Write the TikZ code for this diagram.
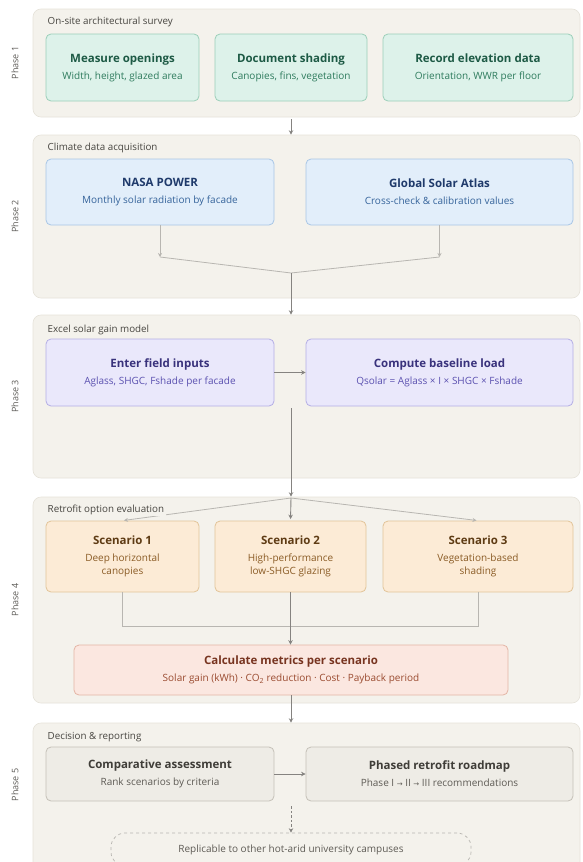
\documentclass[tikz,border=0pt]{standalone}
\usepackage{fontspec}
\setmainfont{Open Sans}
\newfontfamily\symfont{DejaVu Sans}
\usetikzlibrary{arrows.meta,calc}
\definecolor{panelfill}{HTML}{F4F2EC}
\definecolor{paneldraw}{HTML}{E6E3DA}
\definecolor{paneltext}{HTML}{474540}
\definecolor{phasetext}{HTML}{5E5C58}
\definecolor{mainline}{HTML}{858380}
\definecolor{liteline}{HTML}{B8B6B1}
% phase 1 mint
\definecolor{gfill}{HTML}{DDF2EA}\definecolor{gdraw}{HTML}{9BCFB9}
\definecolor{gtitle}{HTML}{1D5A45}\definecolor{gsub}{HTML}{2E7B5D}
% phase 2 blue
\definecolor{bfill}{HTML}{E2EEFA}\definecolor{bdraw}{HTML}{A8C6E6}
\definecolor{btitle}{HTML}{1F3A6B}\definecolor{bsub}{HTML}{36649B}
% phase 3 lavender
\definecolor{lfill}{HTML}{EAE8FB}\definecolor{ldraw}{HTML}{B4AEE5}
\definecolor{ltitle}{HTML}{39327C}\definecolor{lsub}{HTML}{5B51B0}
% phase 4 peach
\definecolor{ofill}{HTML}{FCEBD6}\definecolor{odraw}{HTML}{E2C499}
\definecolor{otitle}{HTML}{5E3B14}\definecolor{osub}{HTML}{8A5B25}
% calc salmon
\definecolor{rfill}{HTML}{FBE7E0}\definecolor{rdraw}{HTML}{E4B5A5}
\definecolor{rtitle}{HTML}{773420}\definecolor{rsub}{HTML}{9A4B30}
% phase 5 gray
\definecolor{yfill}{HTML}{EEECE6}\definecolor{ydraw}{HTML}{C5C1B8}
\definecolor{ytitle}{HTML}{3F3D38}\definecolor{ysub}{HTML}{5E5B55}
\newcommand\ttl[2]{{\color{#1}\fontsize{11.5}{17}\selectfont\bfseries #2}}
\tikzset{
  panel/.style={draw=paneldraw, fill=panelfill, line width=0.6pt, rounded corners=8pt,
    minimum width=547pt, inner sep=0pt},
  ptitle/.style={anchor=west, text=paneltext, fill=panelfill, inner sep=1.5pt,
    font=\fontsize{9.8}{12}\selectfont},
  plabel/.style={rotate=90, text=phasetext, font=\fontsize{9}{11}\selectfont},
  box/.style={draw, rounded corners=5pt, line width=0.8pt, align=center, inner sep=0pt,
    font=\fontsize{10}{17}\selectfont},
  gbox/.style={box, fill=gfill, draw=gdraw, text=gsub, minimum height=67pt},
  bbox/.style={box, fill=bfill, draw=bdraw, text=bsub, minimum height=66pt},
  lbox/.style={box, fill=lfill, draw=ldraw, text=lsub, minimum height=67pt},
  obox/.style={box, fill=ofill, draw=odraw, text=osub, minimum height=71pt},
  rbox/.style={box, fill=rfill, draw=rdraw, text=rsub, minimum height=50pt},
  ybox/.style={box, fill=yfill, draw=ydraw, text=ysub, minimum height=54pt},
  dbox/.style={draw=liteline, dashed, line width=0.7pt, rounded corners=14pt, fill=panelfill,
    text=ysub, font=\fontsize{10}{12}\selectfont, minimum width=360pt, minimum height=33pt},
  mainarr/.style={draw=mainline, line width=0.9pt, -{Stealth[length=4.5pt,width=4.5pt]}},
  litearr/.style={draw=liteline, line width=0.8pt, -{Stealth[length=4pt,width=4pt]}},
  liteln/.style={draw=liteline, line width=0.8pt},
}
\begin{document}
\begin{tikzpicture}[x=1pt,y=-1pt]
\useasboundingbox (0,0) rectangle (582,862);
\clip (0,0) rectangle (582,862);
\fill[white] (0,0) rectangle (582,862);
% panels
\node[panel, minimum height=108pt] (p1) at (306.5,63) {};
\node[panel, minimum height=163pt] (p2) at (306.5,216.5) {};
\node[panel, minimum height=163pt] (p3) at (306.5,396.5) {};
\node[panel, minimum height=206pt] (p4) at (306.5,600) {};
\node[panel, minimum height=157pt] (p5) at (306.5,801.5) {};
% phase labels
\node[plabel] (l1) at (15,63) {Phase 1};
\node[plabel] (l2) at (15,216.5) {Phase 2};
\node[plabel] (l3) at (15,396.5) {Phase 3};
\node[plabel] (l4) at (15,600) {Phase 4};
\node[plabel] (l5) at (15,785) {Phase 5};
% coordinates for joins
\coordinate (n1) at (160,257);
\coordinate (g1) at (439.5,257);
\coordinate (j2) at (291,273);
\coordinate (f4) at (291,498);
\coordinate (m4) at (291,626);
% phase 1 boxes
\node[gbox, minimum width=153pt] (mo) at (122.5,67.5) {\ttl{gtitle}{Measure openings}\\Width, height, glazed area};
\node[gbox, minimum width=152pt] (ds) at (291,67.5) {\ttl{gtitle}{Document shading}\\Canopies, fins, vegetation};
\node[gbox, minimum width=190pt] (re) at (478,67.5) {\ttl{gtitle}{Record elevation data}\\Orientation, WWR per floor};
% phase 2 boxes
\node[bbox, minimum width=228pt] (nasa) at (160,192) {\ttl{btitle}{NASA POWER}\\Monthly solar radiation by facade};
\node[bbox, minimum width=267pt] (gsa) at (439.5,192) {\ttl{btitle}{Global Solar Atlas}\\Cross-check \& calibration values};
% phase 3 boxes
\node[lbox, minimum width=228pt] (efi) at (160,372.5) {\ttl{ltitle}{Enter field inputs}\\Aglass, SHGC, Fshade per facade};
\node[lbox, minimum width=267pt] (cbl) at (439.5,372.5) {\ttl{ltitle}{Compute baseline load}\\Qsolar = Aglass × I × SHGC × Fshade};
% phase 4 boxes
\node[obox, minimum width=153pt] (s1) at (122.5,556.5) {\ttl{otitle}{Scenario 1}\\Deep horizontal\\[-4pt]canopies};
\node[obox, minimum width=151pt] (s2) at (290.5,556.5) {\ttl{otitle}{Scenario 2}\\High-performance\\[-4pt]low-SHGC glazing};
\node[obox, minimum width=190pt] (s3) at (478,556.5) {\ttl{otitle}{Scenario 3}\\Vegetation-based\\[-4pt]shading};
\node[rbox, minimum width=434pt] (calc) at (291,670) {\ttl{rtitle}{Calculate metrics per scenario}\\Solar gain (kWh) · CO\textsubscript{2} reduction · Cost · Payback period};
% phase 5 boxes
\node[ybox, minimum width=228pt] (ca) at (160,774) {\ttl{ytitle}{Comparative assessment}\\Rank scenarios by criteria};
\node[ybox, minimum width=267pt] (pr) at (439.5,774) {\ttl{ytitle}{Phased retrofit roadmap}\\Phase I {\symfont\fontsize{7}{9}\selectfont→} II {\symfont\fontsize{7}{9}\selectfont→} III recommendations};
\node[dbox] (rep) at (291,849.5) {Replicable to other hot-arid university campuses};
% connectors
\draw[mainarr] ([yshift=-2pt]p1.south -| ds.south) -- (p2.north -| ds.south);
\draw[litearr] (nasa.south) -- (n1);
\draw[litearr] (gsa.south) -- (g1);
\draw[liteln] (n1) -- (j2) -- (g1);
\draw[mainarr] (j2) -- (p3.north -| j2);
\draw[mainarr] (efi.east) -- (cbl.west);
\draw[mainarr] ([yshift=-2pt]efi.south -| f4) -- (p4.north -| f4);
\draw[litearr, shorten >=1.5pt] (f4) -- (s1.north);
\draw[mainarr, shorten >=1.5pt] (f4) -- (s2.north);
\draw[litearr, shorten >=1.5pt] (f4) -- (s3.north);
\draw[liteln] (s1.south) -- (s1.south |- m4) -- (s3.south |- m4) -- (s3.south);
\draw[mainarr] (s2.south) -- (calc.north -| s2.south);
\draw[mainarr] (calc.south) -- (p5.north -| calc.south);
\draw[mainarr] (ca.east) -- (pr.west);
\draw[mainarr, dashed, dash pattern=on 2.5pt off 2pt] ([yshift=-5pt]ca.south -| rep.north) -- (rep.north);
% panel titles
\node[ptitle] (t1) at (46,22) {On-site architectural survey};
\node[ptitle] (t2) at (46,148) {Climate data acquisition};
\node[ptitle] (t3) at (46,330) {Excel solar gain model};
\node[ptitle] (t4) at (46,510) {Retrofit option evaluation};
\node[ptitle] (t5) at (46,737) {Decision \& reporting};
\end{tikzpicture}
\end{document}
